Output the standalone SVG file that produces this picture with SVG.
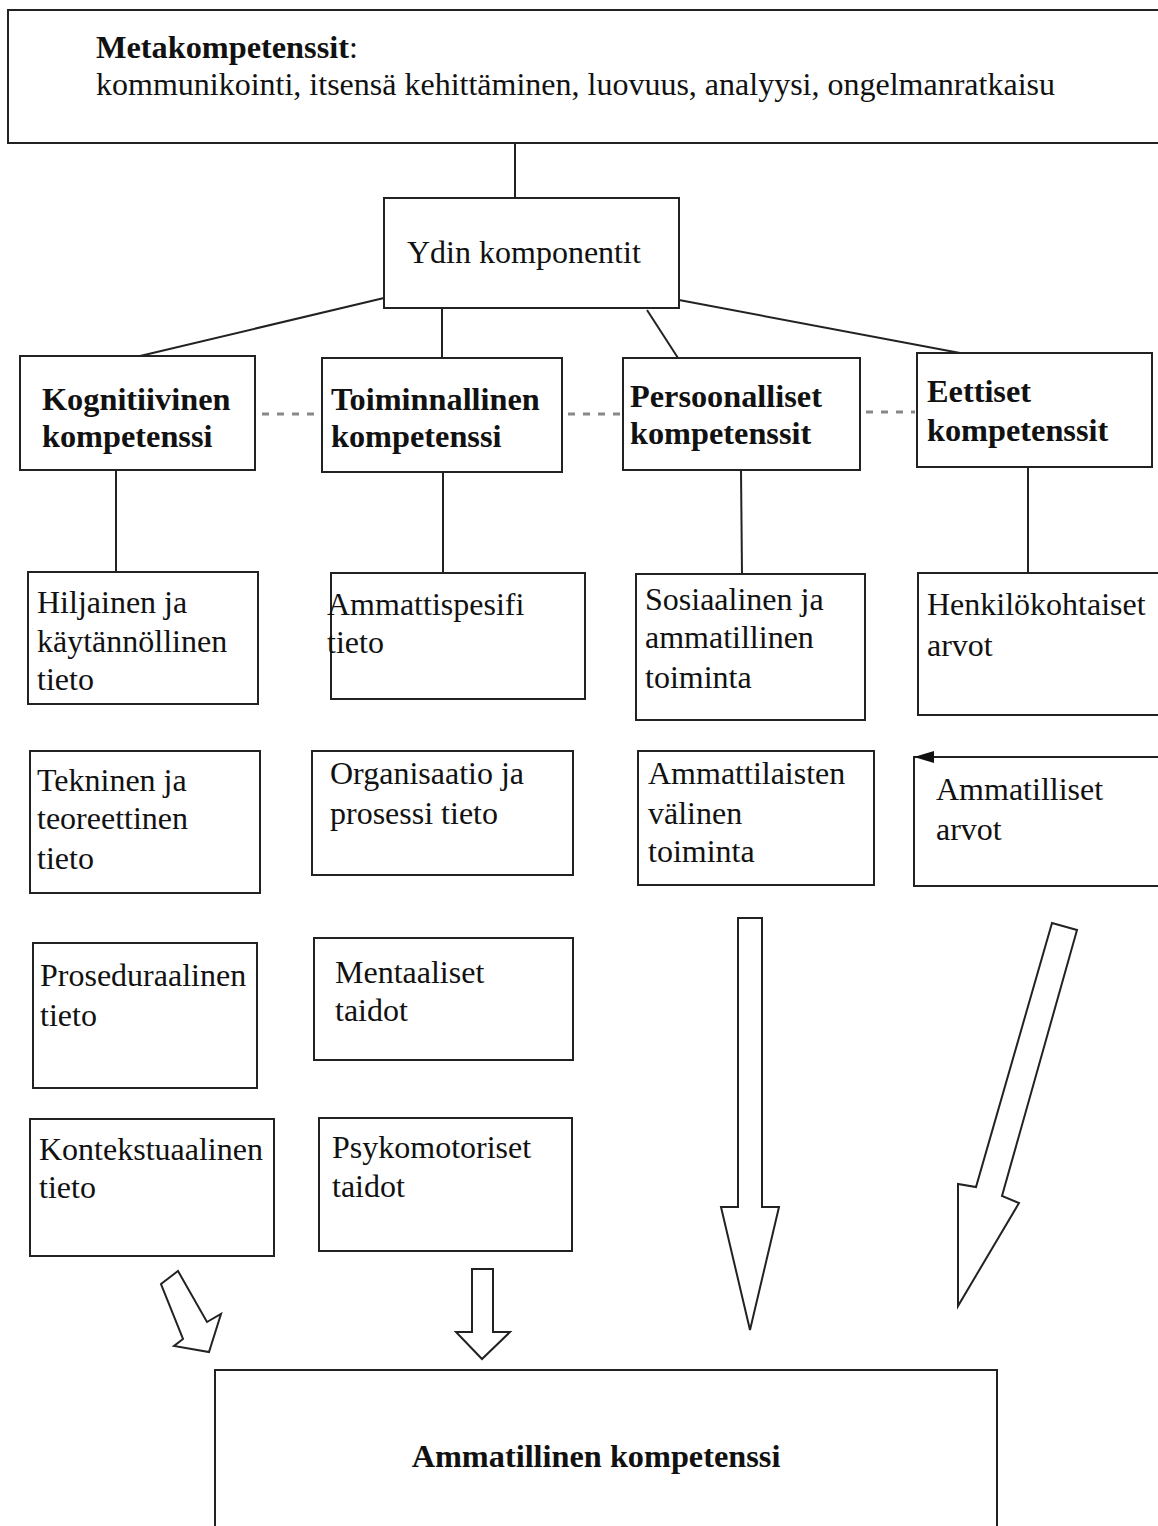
<svg xmlns="http://www.w3.org/2000/svg" width="1158" height="1526" viewBox="0 0 1158 1526">
<style>
.box{fill:#fff;stroke:#222;stroke-width:2}
.ln{fill:none;stroke:#222;stroke-width:2}
.dash{fill:none;stroke:#888;stroke-width:3;stroke-dasharray:7 8}
.arr{fill:#fff;stroke:#222;stroke-width:2;stroke-linejoin:miter}
text{font-family:"Liberation Serif","Times New Roman",serif;fill:#111}
.r{font-size:32px}
.b{font-size:32.3px;font-weight:bold}
</style>
<rect width="1158" height="1526" fill="#fff"/>
<g id="connectors">
<line class="ln" x1="515" y1="143" x2="515" y2="198"/>
<line class="ln" x1="384" y1="298" x2="140" y2="356"/>
<line class="ln" x1="442" y1="308" x2="442" y2="358"/>
<line class="ln" x1="647" y1="310" x2="678" y2="358"/>
<line class="ln" x1="679" y1="300" x2="960" y2="353"/>
<line class="dash" x1="262" y1="414" x2="320" y2="414"/>
<line class="dash" x1="568" y1="414" x2="621" y2="414"/>
<line class="dash" x1="866" y1="412" x2="915" y2="412"/>
<line class="ln" x1="116" y1="470" x2="116" y2="572"/>
<line class="ln" x1="443" y1="472" x2="443" y2="573"/>
<line class="ln" x1="741" y1="470" x2="742" y2="574"/>
<line class="ln" x1="1028" y1="467" x2="1028" y2="573"/>
<polygon class="arr" points="161,1284 178,1271 207,1322 221,1314 209,1352 174,1346 183,1339"/>
<polygon class="arr" points="472,1269 493,1269 493,1332 510,1332 482,1359 456,1332 472,1332"/>
<polygon class="arr" points="738,918 762,918 762,1207 779,1207 750,1330 721,1207 738,1207"/>
<polygon class="arr" points="1052,923 1077,930 1002,1196 1019,1203 958,1306 958,1184 976,1187"/>
</g>
<g id="meta">
<rect class="box" x="8" y="10" width="1160" height="133"/>
<text x="96" y="58"><tspan class="b">Metakompetenssit</tspan><tspan class="r">:</tspan></text>
<text class="r" x="96" y="95">kommunikointi, itsensä kehittäminen, luovuus, analyysi, ongelmanratkaisu</text>
</g>
<g id="ydin">
<rect class="box" x="384" y="198" width="295" height="110"/>
<text class="r" x="407" y="263">Ydin komponentit</text>
</g>
<g id="kognitiivinen">
<rect class="box" x="20" y="356" width="235" height="114"/>
<text class="b" x="42" y="410">Kognitiivinen</text>
<text class="b" x="42" y="447">kompetenssi</text>
</g>
<g id="toiminnallinen">
<rect class="box" x="322" y="358" width="240" height="114"/>
<text class="b" x="331" y="410">Toiminnallinen</text>
<text class="b" x="331" y="447">kompetenssi</text>
</g>
<g id="persoonalliset">
<rect class="box" x="623" y="358" width="237" height="112"/>
<text class="b" x="630" y="407">Persoonalliset</text>
<text class="b" x="630" y="444">kompetenssit</text>
</g>
<g id="eettiset">
<rect class="box" x="917" y="353" width="235" height="114"/>
<text class="b" x="927" y="402">Eettiset</text>
<text class="b" x="927" y="441">kompetenssit</text>
</g>
<g id="hiljainen">
<rect class="box" x="28" y="572" width="230" height="132"/>
<text class="r" x="37" y="613">Hiljainen ja</text>
<text class="r" x="37" y="652">käytännöllinen</text>
<text class="r" x="37" y="690">tieto</text>
</g>
<g id="ammattispesifi">
<rect class="box" x="331" y="573" width="254" height="126"/>
<text class="r" x="327" y="615">Ammattispesifi</text>
<text class="r" x="327" y="653">tieto</text>
</g>
<g id="sosiaalinen">
<rect class="box" x="636" y="574" width="229" height="146"/>
<text class="r" x="645" y="610">Sosiaalinen ja</text>
<text class="r" x="645" y="648">ammatillinen</text>
<text class="r" x="645" y="688">toiminta</text>
</g>
<g id="henkilokohtaiset">
<rect class="box" x="918" y="573" width="250" height="142"/>
<text class="r" x="927" y="615">Henkilökohtaiset</text>
<text class="r" x="927" y="656">arvot</text>
</g>
<g id="tekninen">
<rect class="box" x="30" y="751" width="230" height="142"/>
<text class="r" x="37" y="791">Tekninen ja</text>
<text class="r" x="37" y="829">teoreettinen</text>
<text class="r" x="37" y="869">tieto</text>
</g>
<g id="organisaatio">
<rect class="box" x="312" y="751" width="261" height="124"/>
<text class="r" x="330" y="784">Organisaatio ja</text>
<text class="r" x="330" y="824">prosessi tieto</text>
</g>
<g id="ammattilaisten">
<rect class="box" x="638" y="751" width="236" height="134"/>
<text class="r" x="648" y="784">Ammattilaisten</text>
<text class="r" x="648" y="824">välinen</text>
<text class="r" x="648" y="862">toiminta</text>
</g>
<g id="ammatilliset-arvot">
<rect class="box" x="914" y="757" width="254" height="129"/>
<polygon points="914,757 934,751 934,763" fill="#111"/>
<text class="r" x="936" y="800">Ammatilliset</text>
<text class="r" x="936" y="840">arvot</text>
</g>
<g id="proseduraalinen">
<rect class="box" x="33" y="943" width="224" height="145"/>
<text class="r" x="40" y="986">Proseduraalinen</text>
<text class="r" x="40" y="1026">tieto</text>
</g>
<g id="mentaaliset">
<rect class="box" x="314" y="938" width="259" height="122"/>
<text class="r" x="335" y="983">Mentaaliset</text>
<text class="r" x="335" y="1021">taidot</text>
</g>
<g id="kontekstuaalinen">
<rect class="box" x="30" y="1119" width="244" height="137"/>
<text class="r" x="39" y="1160">Kontekstuaalinen</text>
<text class="r" x="39" y="1198">tieto</text>
</g>
<g id="psykomotoriset">
<rect class="box" x="319" y="1118" width="253" height="133"/>
<text class="r" x="332" y="1158">Psykomotoriset</text>
<text class="r" x="332" y="1197">taidot</text>
</g>
<g id="ammatillinen-kompetenssi">
<rect class="box" x="215" y="1370" width="782" height="180"/>
<text class="b" x="596" y="1467" text-anchor="middle">Ammatillinen kompetenssi</text>
</g>
</svg>
